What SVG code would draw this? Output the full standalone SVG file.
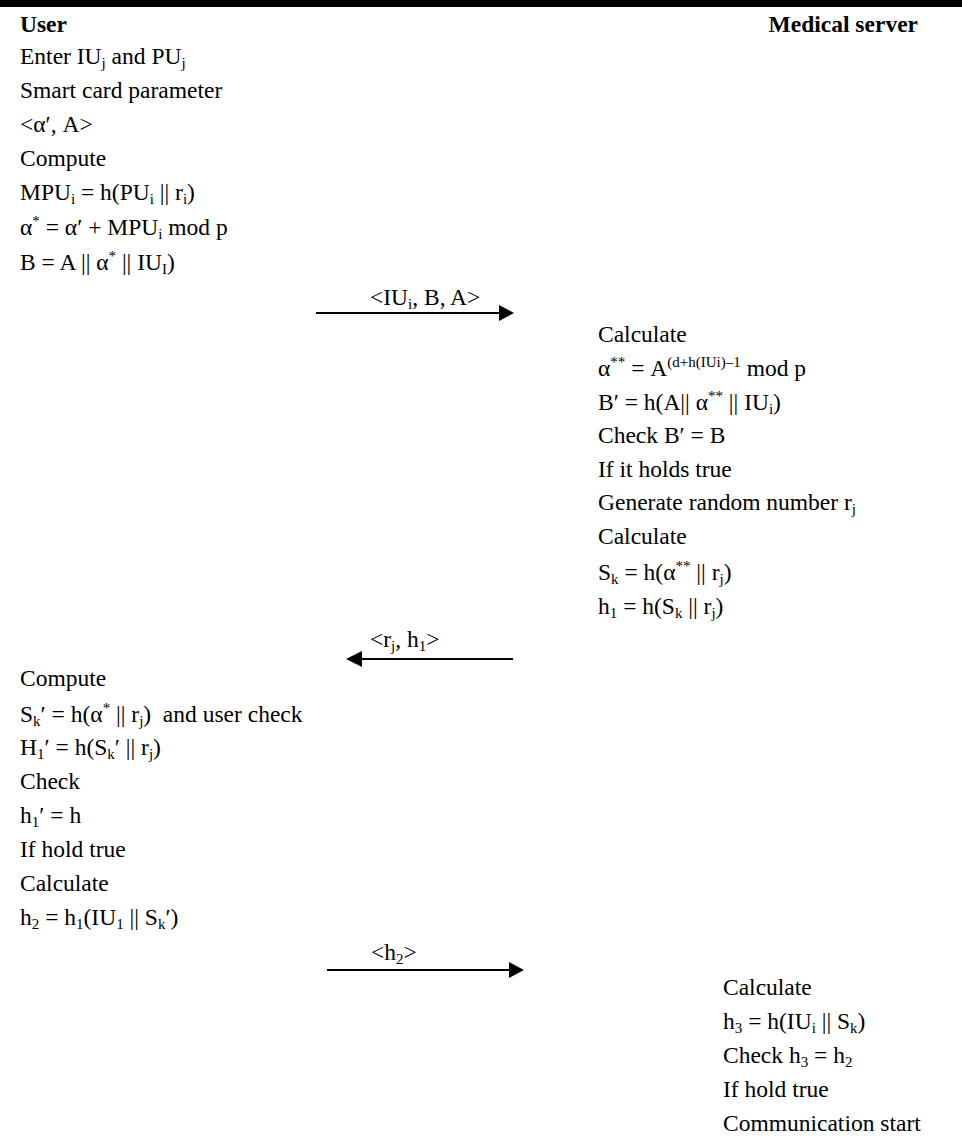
<svg xmlns="http://www.w3.org/2000/svg" width="962" height="1141" viewBox="0 0 962 1141">
<style>
text{font-family:"Liberation Serif","Times New Roman",serif;font-size:23.5px;fill:#000}
.b{font-weight:bold}
.s{font-size:15px}
.conn line{stroke:#000;stroke-width:2}
.conn polygon{fill:#000}
</style>
<rect x="0" y="0" width="962" height="7" fill="#000"/>
<g id="user-header"><text class="b" x="20" y="32">User</text></g>
<g id="server-header"><text class="b" x="918" y="32" text-anchor="end">Medical server</text></g>

<g id="user-step1">
<text x="20" y="64">Enter IU<tspan class="s" dy="4">j</tspan><tspan dy="-4"> and PU</tspan><tspan class="s" dy="4">j</tspan></text>
<text x="20" y="98">Smart card parameter</text>
<text x="20" y="132">&lt;α′, A&gt;</text>
<text x="20" y="166">Compute</text>
<text x="20" y="200">MPU<tspan class="s" dy="4">i</tspan><tspan dy="-4"> = h(PU</tspan><tspan class="s" dy="4">i</tspan><tspan dy="-4"> || r</tspan><tspan class="s" dy="4">i</tspan><tspan dy="-4">)</tspan></text>
<text x="20" y="235">α<tspan class="s" dy="-9">*</tspan><tspan dy="9"> = α′ + MPU</tspan><tspan class="s" dy="4">i</tspan><tspan dy="-4"> mod p</tspan></text>
<text x="20" y="270">B = A || α<tspan class="s" dy="-9">*</tspan><tspan dy="9"> || IU</tspan><tspan class="s" dy="4">I</tspan><tspan dy="-4">)</tspan></text>
</g>

<g id="server-step1">
<text x="598" y="342">Calculate</text>
<text x="598" y="376">α<tspan class="s" dy="-9">**</tspan><tspan dy="9"> = A</tspan><tspan class="s" dy="-9">(d+h(IUi)–1</tspan><tspan dy="9"> mod p</tspan></text>
<text x="598" y="410">B′ = h(A|| α<tspan class="s" dy="-9">**</tspan><tspan dy="9"> || IU</tspan><tspan class="s" dy="4">i</tspan><tspan dy="-4">)</tspan></text>
<text x="598" y="443">Check B′ = B</text>
<text x="598" y="477">If it holds true</text>
<text x="598" y="510">Generate random number r<tspan class="s" dy="4">j</tspan></text>
<text x="598" y="544">Calculate</text>
<text x="598" y="580">S<tspan class="s" dy="4">k</tspan><tspan dy="-4"> = h(α</tspan><tspan class="s" dy="-9">**</tspan><tspan dy="9"> || r</tspan><tspan class="s" dy="4">j</tspan><tspan dy="-4">)</tspan></text>
<text x="598" y="614">h<tspan class="s" dy="4">1</tspan><tspan dy="-4"> = h(S</tspan><tspan class="s" dy="4">k</tspan><tspan dy="-4"> || r</tspan><tspan class="s" dy="4">j</tspan><tspan dy="-4">)</tspan></text>
</g>

<g id="user-step2">
<text x="20" y="686">Compute</text>
<text x="20" y="722" xml:space="preserve">S<tspan class="s" dy="4">k</tspan><tspan dy="-4">′ = h(α</tspan><tspan class="s" dy="-9">*</tspan><tspan dy="9"> || r</tspan><tspan class="s" dy="4">j</tspan><tspan dy="-4">)  and user check</tspan></text>
<text x="20" y="755">H<tspan class="s" dy="4">1</tspan><tspan dy="-4">′ = h(S</tspan><tspan class="s" dy="4">k</tspan><tspan dy="-4">′ || r</tspan><tspan class="s" dy="4">j</tspan><tspan dy="-4">)</tspan></text>
<text x="20" y="789">Check</text>
<text x="20" y="823">h<tspan class="s" dy="4">1</tspan><tspan dy="-4">′ = h</tspan></text>
<text x="20" y="857">If hold true</text>
<text x="20" y="891">Calculate</text>
<text x="20" y="925">h<tspan class="s" dy="4">2</tspan><tspan dy="-4"> = h</tspan><tspan class="s" dy="4">1</tspan><tspan dy="-4">(IU</tspan><tspan class="s" dy="4">1</tspan><tspan dy="-4"> || S</tspan><tspan class="s" dy="4">k</tspan><tspan dy="-4">′)</tspan></text>
</g>

<g id="server-step2">
<text x="723" y="995">Calculate</text>
<text x="723" y="1029">h<tspan class="s" dy="4">3</tspan><tspan dy="-4"> = h(IU</tspan><tspan class="s" dy="4">i</tspan><tspan dy="-4"> || S</tspan><tspan class="s" dy="4">k</tspan><tspan dy="-4">)</tspan></text>
<text x="723" y="1063">Check h<tspan class="s" dy="4">3</tspan><tspan dy="-4"> = h</tspan><tspan class="s" dy="4">2</tspan></text>
<text x="723" y="1097">If hold true</text>
<text x="723" y="1131">Communication start</text>
</g>

<g id="connectors" class="conn">
<text x="370" y="305">&lt;IU<tspan class="s" dy="4">i</tspan><tspan dy="-4">, B, A&gt;</tspan></text>
<line x1="316" y1="313" x2="500" y2="313"/>
<polygon points="499,305 514,313 499,321"/>
<text x="370" y="647">&lt;r<tspan class="s" dy="4">j</tspan><tspan dy="-4">, h</tspan><tspan class="s" dy="4">1</tspan><tspan dy="-4">&gt;</tspan></text>
<line x1="513" y1="659" x2="361" y2="659"/>
<polygon points="362,651 346,659 362,667"/>
<text x="371" y="960">&lt;h<tspan class="s" dy="4">2</tspan><tspan dy="-4">&gt;</tspan></text>
<line x1="327" y1="970" x2="510" y2="970"/>
<polygon points="509,962 524,970 509,978"/>
</g>
</svg>
